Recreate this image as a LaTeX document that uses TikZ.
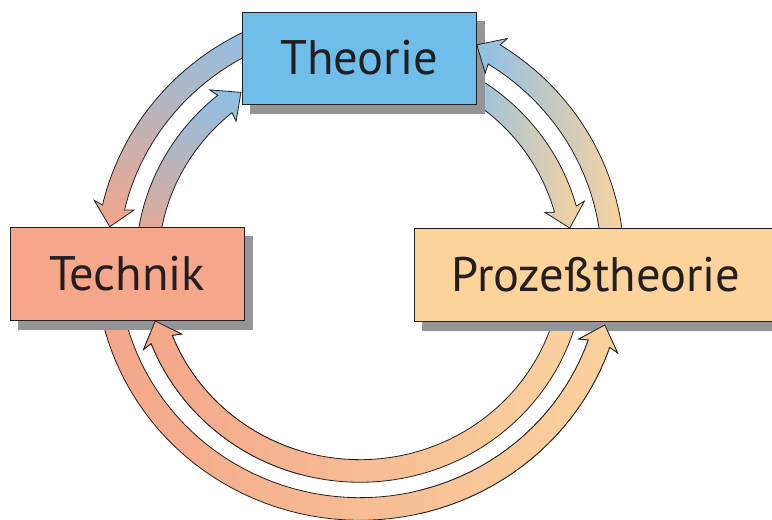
\documentclass[tikz,border=0pt]{standalone}
\usepackage{fontspec}
\setmainfont{PT Sans}
\pgfdeclarelayer{arrowlayer}
\pgfdeclarelayer{shadowlayer}
\pgfdeclarelayer{overshadow}
\pgfsetlayers{arrowlayer,shadowlayer,overshadow,main}

\definecolor{theoriefill}{RGB}{110,190,233}
\definecolor{technikfill}{RGB}{246,166,138}
\definecolor{prozessfill}{RGB}{253,211,156}
\definecolor{shadowgrey}{RGB}{147,149,152}
\definecolor{inkline}{RGB}{35,31,32}
\definecolor{arrowblue}{RGB}{140,192,230}
\definecolor{arrowsalmon}{RGB}{243,166,137}
\definecolor{arrowpeach}{RGB}{250,210,158}

% shaft half width, head half width, head length, barb sweep (all in px)
\def\shaftw{11.3}
\def\headw{20.5}
\def\headl{20}
\def\headbk{2.5}

% curved block arrow along an ellipse: #1 style, #2 cx, #3 cy, #4 a, #5 b,
% #6 tail parameter angle, #7 tip parameter angle
\newcommand{\ringarrow}[7]{%
  \pgfmathsetmacro{\rdir}{ifthenelse(#7>#6,1,-1)}%
  \pgfmathsetmacro{\tbase}{#7-\rdir*\headl/#4*180/pi}%
  \pgfmathsetmacro{\tbarb}{\tbase-\rdir*\headbk/#4*180/pi}%
  \path[arrowbody,#1]
    plot[domain=#6:\tbase,samples=60] ({#2+(#4+\shaftw)*cos(\x)},{#3+(#5+\shaftw)*sin(\x)})
    -- ({#2+(#4+\headw)*cos(\tbarb)},{#3+(#5+\headw)*sin(\tbarb)})
    -- ({#2+#4*cos(#7)},{#3+#5*sin(#7)})
    -- ({#2+(#4-\headw)*cos(\tbarb)},{#3+(#5-\headw)*sin(\tbarb)})
    -- plot[domain=\tbase:#6,samples=60] ({#2+(#4-\shaftw)*cos(\x)},{#3+(#5-\shaftw)*sin(\x)})
    -- cycle;
}

\begin{document}
\begin{tikzpicture}[x=1pt,y=-1pt,
  box/.style={draw=inkline, line width=1pt, inner sep=0pt, text=inkline,
    font=\fontsize{48.5}{50}\selectfont},
  arrowbody/.style={draw=inkline, line width=0.8pt, line join=miter},
  leftshade/.style={top color=arrowblue, bottom color=arrowsalmon},
  rightshade/.style={left color=arrowblue, right color=arrowpeach},
  bottomshade/.style={left color=arrowsalmon, right color=arrowpeach},
  shadowbox/.style={fill=shadowgrey}]
\useasboundingbox (0,0) rectangle (772,520);

% boxes
\node[box, fill=theoriefill, minimum width=234pt, minimum height=92pt]
  (theorie) at (359,58) {Theorie};
\node[box, fill=technikfill, minimum width=234pt, minimum height=93pt]
  (technik) at (127,273.5) {Technik};
\node[box, fill=prozessfill, minimum width=364pt, minimum height=93pt]
  (prozess) at (596,274.5) {Prozeßtheorie};

% drop shadows
\begin{pgfonlayer}{shadowlayer}
  \foreach \b in {theorie,technik,prozess}
    \fill[shadowbox] ([shift={(8,9)}]\b.north west) rectangle ([shift={(8,9)}]\b.south east);
\end{pgfonlayer}

% arrows of the outer ring
\begin{pgfonlayer}{arrowlayer}
  \ringarrow{leftshade}{360}{263}{253}{246}{250}{188.5}
  \ringarrow{bottomshade}{360}{263}{253}{246}{170}{14.6}
\end{pgfonlayer}
\begin{pgfonlayer}{overshadow}
  \ringarrow{rightshade}{360}{263}{253}{246}{356}{297.5}
  \begin{scope}
    \clip (420,300) rectangle (700,520);
    \ringarrow{bottomshade}{360}{263}{253}{246}{170}{14.6}
  \end{scope}
\end{pgfonlayer}

% arrows of the inner ring
\begin{pgfonlayer}{arrowlayer}
  \ringarrow{leftshade}{360}{264}{213}{207}{183}{236}
  \ringarrow{rightshade}{360}{264}{213}{207}{300}{350}
  \ringarrow{bottomshade}{360}{264}{213}{207}{12}{164}
\end{pgfonlayer}
\begin{pgfonlayer}{overshadow}
  \begin{scope}
    \clip (60,300) rectangle (300,520);
    \ringarrow{bottomshade}{360}{264}{213}{207}{12}{164}
  \end{scope}
\end{pgfonlayer}
\end{tikzpicture}
\end{document}
